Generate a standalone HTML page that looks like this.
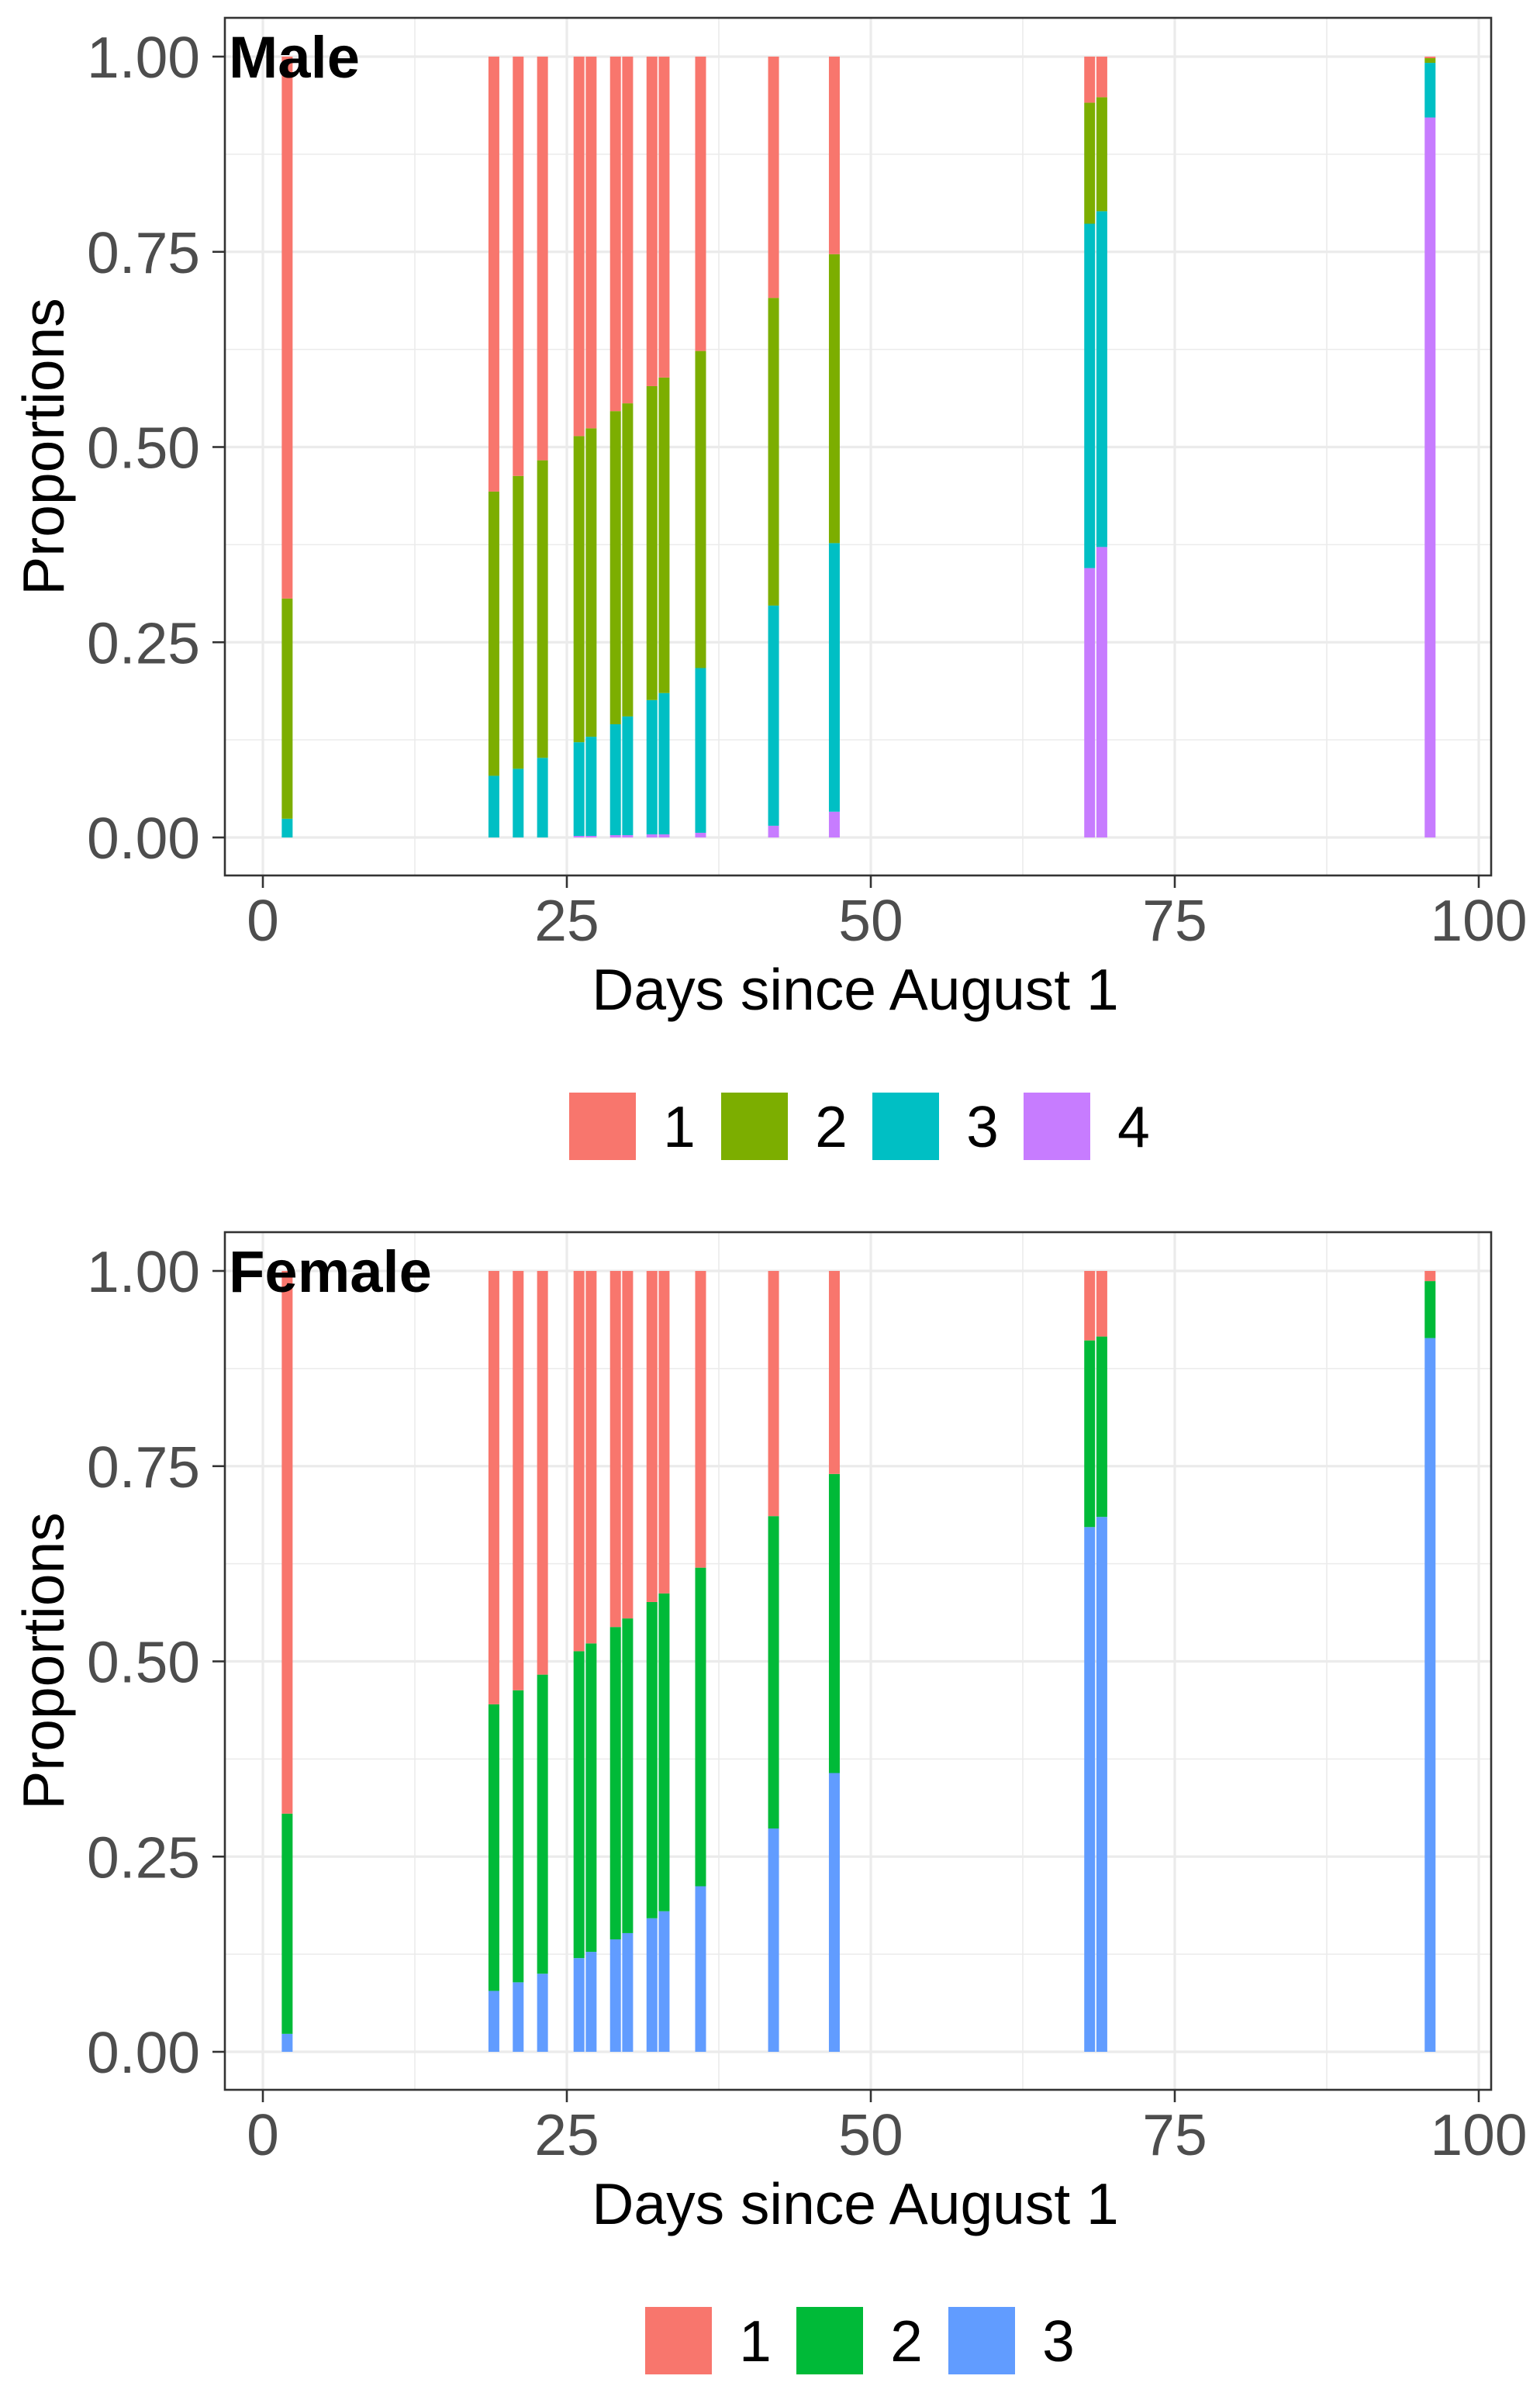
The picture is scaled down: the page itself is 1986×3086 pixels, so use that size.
<!DOCTYPE html>
<html><head><meta charset="utf-8"><style>
html,body{margin:0;padding:0;background:#fff;}
svg{display:block;font-family:"Liberation Sans",Arial,sans-serif;}
</style></head><body>
<svg id="chart" width="1986" height="3086" viewBox="0 0 1986 3086" xmlns="http://www.w3.org/2000/svg"></svg>
<script>
const days = [2,19,21,23,26,27,29,30,32,33,36,42,47,68,69,96];
// Male cumulative tops (bottom-up stack: 4, 3, 2, 1)
const maleC4 = [0,0,0,0,0.002,0.002,0.003,0.003,0.004,0.004,0.006,0.015,0.033,0.345,0.372,0.922];
const maleC3 = [0.024,0.079,0.088,0.102,0.122,0.129,0.145,0.155,0.176,0.185,0.217,0.297,0.377,0.786,0.802,0.992];
const maleC2 = [0.306,0.443,0.463,0.483,0.514,0.524,0.546,0.556,0.578,0.589,0.623,0.691,0.747,0.941,0.948,0.998];
// Female cumulative tops (bottom-up: 3, 2, 1)
const femC3 = [0.023,0.078,0.089,0.100,0.120,0.128,0.144,0.152,0.171,0.180,0.212,0.286,0.357,0.672,0.685,0.914];
const femC2 = [0.305,0.445,0.463,0.483,0.513,0.523,0.544,0.555,0.576,0.587,0.620,0.686,0.740,0.911,0.916,0.987];
const xTicks = [0,25,50,75,100];
const yTicks = [0,0.25,0.5,0.75,1];
const yTickLabels = ["0.00","0.25","0.50","0.75","1.00"];

const NS="http://www.w3.org/2000/svg";
const svg=document.getElementById('chart');
function mk(tag,attrs,parent){const e=document.createElementNS(NS,tag);for(const k in attrs)e.setAttribute(k,attrs[k]);(parent||svg).appendChild(e);return e;}

const PL=290,PR=1923,X0=339,PXU=15.68,BW=14;
function xs(v){return X0+v*PXU;}

function panel(off,title,stacks,colors,legendLabels,legendX,legendNames){
  const top=23+off,bot=1129+off,y0=1080+off,y1=73+off;
  const ys=v=>y0-(y0-y1)*v;
  const g=mk('g',{});
  
  
  [12.5,37.5,62.5,87.5].forEach(v=>{const l=mk('line',{x1:xs(v),x2:xs(v),y1:top,y2:bot,stroke:'#ebebeb','stroke-width':1.6},g);});
  [0.125,0.375,0.625,0.875].forEach(v=>{const l=mk('line',{x1:PL,x2:PR,y1:ys(v),y2:ys(v),stroke:'#ebebeb','stroke-width':1.6},g);});
  xTicks.forEach(v=>{const l=mk('line',{x1:xs(v),x2:xs(v),y1:top,y2:bot,stroke:'#ebebeb','stroke-width':3.2},g);});
  yTicks.forEach(v=>{const l=mk('line',{x1:PL,x2:PR,y1:ys(v),y2:ys(v),stroke:'#ebebeb','stroke-width':3.2},g);});
  days.forEach((d,i)=>{
    let prev=0;
    stacks.forEach((arr,k)=>{
      const t=arr[i];
      if(t>prev){const r=mk('rect',{x:xs(d)-BW/2,y:ys(t),width:BW,height:ys(prev)-ys(t),fill:colors[k]},g);
        
        }
      prev=Math.max(prev,t);
    });
    const r=mk('rect',{x:xs(d)-BW/2,y:ys(1),width:BW,height:ys(prev)-ys(1),fill:colors[stacks.length]},g);
    
    
  });
  const b=mk('rect',{x:PL,y:top,width:PR-PL,height:bot-top,fill:'none',stroke:'#333','stroke-width':2.6},g);
  
  yTicks.forEach((v,i)=>{
    const l=mk('line',{x1:274,x2:PL,y1:ys(v),y2:ys(v),stroke:'#333','stroke-width':2.6},g);
    
    const t=mk('text',{x:258,y:ys(v)+27,'text-anchor':'end','font-size':75,fill:'#4d4d4d'},g);
    t.textContent=yTickLabels[i];
    
  });
  xTicks.forEach(v=>{
    const l=mk('line',{x1:xs(v),x2:xs(v),y1:bot,y2:bot+16,stroke:'#333','stroke-width':2.6},g);
    
    const t=mk('text',{x:xs(v),y:bot+84,'text-anchor':'middle','font-size':75,fill:'#4d4d4d'},g);
    t.textContent=String(v);
    
  });
  const xt=mk('text',{x:1103,y:1302+off,'text-anchor':'middle','font-size':75,fill:'#000'},g);
  xt.textContent='Days since August 1';
  
  const yt=mk('text',{x:0,y:0,'text-anchor':'middle','font-size':75,fill:'#000',transform:`translate(82,${576+off}) rotate(-90)`},g);
  yt.textContent='Proportions';
  
  const tt=mk('text',{x:295,y:100+off,'font-size':76,'font-weight':'bold',fill:'#000'},g);
  tt.textContent=title;
  
  const lc=[colors[stacks.length]].concat(stacks.map((s,k)=>colors[stacks.length-1-k]));
  legendLabels.forEach((lab,i)=>{
    const r=mk('rect',{x:legendX[i],y:1409+off,width:86,height:87,fill:lc[i]},g);
    
    const t=mk('text',{x:legendX[i]+142,y:1479+off,'text-anchor':'middle','font-size':75,fill:'#000'},g);
    t.textContent=lab;
    
  });
}
panel(0,'Male',[maleC4,maleC3,maleC2],['#C77CFF','#00BFC4','#7CAE00','#F8766D'],['1','2','3','4'],[734,930,1125,1320],['cluster4','cluster3','cluster2','cluster1']);
panel(1566,'Female',[femC3,femC2],['#619CFF','#00BA38','#F8766D'],['1','2','3'],[832,1027,1223],['cluster3','cluster2','cluster1']);
</script>
</body></html>
